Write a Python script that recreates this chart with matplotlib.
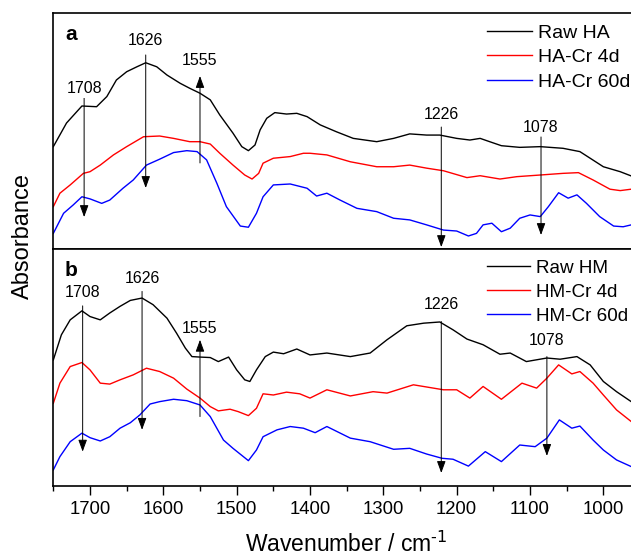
import numpy as np
import matplotlib
matplotlib.use("Agg")
import matplotlib.pyplot as plt
from matplotlib.ticker import MultipleLocator

plt.rcParams["font.family"] = ["Liberation Sans", "DejaVu Sans"]
plt.rcParams["mathtext.default"] = "regular"

# ---- panel a: humic acid (HA) ----
wn_a_raw = [1750, 1732, 1711, 1691, 1677, 1664, 1650, 1636, 1624, 1609, 1595, 1577,
            1564, 1550, 1536, 1523, 1505, 1493, 1484, 1475, 1468, 1459, 1448, 1432,
            1418, 1404, 1386, 1364, 1341, 1309, 1286, 1264, 1241, 1223, 1200, 1182,
            1168, 1155, 1139, 1114, 1086, 1055, 1032, 1018, 1000, 977, 962]
abs_a_raw = [0.433, 0.533, 0.605, 0.602, 0.645, 0.715, 0.750, 0.771, 0.788, 0.771, 0.736, 0.701,
             0.680, 0.659, 0.631, 0.567, 0.490, 0.433, 0.416, 0.440, 0.504, 0.553, 0.577, 0.571,
             0.574, 0.560, 0.525, 0.496, 0.468, 0.454, 0.468, 0.487, 0.482, 0.482, 0.468, 0.461,
             0.468, 0.454, 0.437, 0.430, 0.433, 0.426, 0.412, 0.384, 0.348, 0.327, 0.309]

wn_a_4d = [1750, 1741, 1727, 1709, 1700, 1686, 1668, 1650, 1627, 1605, 1586, 1564,
           1550, 1536, 1523, 1505, 1489, 1479, 1470, 1464, 1450, 1427, 1409, 1400,
           1377, 1345, 1309, 1286, 1264, 1241, 1218, 1186, 1168, 1141, 1118, 1086,
           1055, 1034, 1014, 991, 977, 962]
abs_a_4d = [0.179, 0.236, 0.271, 0.320, 0.327, 0.355, 0.398, 0.433, 0.475, 0.478, 0.468, 0.454,
            0.454, 0.444, 0.405, 0.355, 0.313, 0.296, 0.320, 0.363, 0.384, 0.391, 0.405, 0.405,
            0.398, 0.369, 0.348, 0.348, 0.355, 0.342, 0.331, 0.302, 0.310, 0.296, 0.306, 0.313,
            0.320, 0.323, 0.292, 0.253, 0.247, 0.253]

wn_a_60d = [1750, 1736, 1723, 1711, 1700, 1684, 1673, 1655, 1641, 1623, 1605, 1586,
            1568, 1554, 1541, 1527, 1514, 1495, 1484, 1473, 1464, 1450, 1427, 1404,
            1391, 1377, 1359, 1336, 1309, 1286, 1264, 1241, 1218, 1200, 1184, 1173,
            1164, 1152, 1139, 1127, 1114, 1100, 1086, 1075, 1061, 1048, 1036, 1023,
            1005, 986, 973, 962]
abs_a_60d = [0.066, 0.151, 0.186, 0.221, 0.212, 0.193, 0.207, 0.257, 0.292, 0.355, 0.380, 0.408,
             0.416, 0.412, 0.377, 0.278, 0.179, 0.097, 0.092, 0.151, 0.221, 0.271, 0.275, 0.257,
             0.224, 0.236, 0.207, 0.172, 0.158, 0.130, 0.123, 0.102, 0.080, 0.076, 0.055, 0.066,
             0.102, 0.109, 0.073, 0.088, 0.130, 0.144, 0.137, 0.179, 0.238, 0.215, 0.229, 0.193,
             0.137, 0.097, 0.094, 0.102]

# ---- panel b: humin (HM) ----
wn_b_raw = [1750, 1739, 1727, 1711, 1700, 1686, 1673, 1659, 1645, 1629, 1614, 1595,
            1582, 1570, 1561, 1550, 1536, 1525, 1511, 1500, 1489, 1482, 1473, 1461,
            1450, 1436, 1418, 1400, 1377, 1345, 1318, 1295, 1268, 1245, 1223, 1205,
            1186, 1164, 1141, 1127, 1105, 1077, 1059, 1036, 1018, 1000, 982, 962]
abs_b_raw = [0.532, 0.638, 0.701, 0.739, 0.715, 0.701, 0.730, 0.758, 0.783, 0.793, 0.765, 0.708,
             0.645, 0.582, 0.546, 0.544, 0.542, 0.525, 0.544, 0.490, 0.448, 0.441, 0.490, 0.546,
             0.565, 0.558, 0.578, 0.553, 0.561, 0.546, 0.561, 0.617, 0.676, 0.687, 0.692, 0.659,
             0.620, 0.596, 0.556, 0.561, 0.525, 0.540, 0.535, 0.546, 0.511, 0.441, 0.398, 0.356]

wn_b_4d = [1750, 1741, 1727, 1711, 1700, 1686, 1673, 1659, 1641, 1623, 1605, 1586,
           1568, 1550, 1536, 1525, 1509, 1498, 1484, 1473, 1464, 1450, 1432, 1414,
           1400, 1377, 1345, 1314, 1295, 1259, 1218, 1200, 1182, 1164, 1139, 1111,
           1091, 1077, 1061, 1043, 1032, 1014, 1000, 982, 962]
abs_b_4d = [0.349, 0.434, 0.504, 0.521, 0.490, 0.434, 0.430, 0.448, 0.469, 0.497, 0.483, 0.455,
            0.409, 0.371, 0.335, 0.317, 0.324, 0.314, 0.297, 0.328, 0.389, 0.384, 0.396, 0.389,
            0.371, 0.406, 0.380, 0.398, 0.392, 0.427, 0.406, 0.406, 0.371, 0.420, 0.366, 0.434,
            0.413, 0.455, 0.511, 0.473, 0.483, 0.434, 0.384, 0.321, 0.272]

wn_b_60d = [1750, 1741, 1727, 1711, 1700, 1686, 1673, 1659, 1645, 1632, 1618, 1605,
            1586, 1568, 1550, 1536, 1518, 1505, 1484, 1473, 1464, 1445, 1427, 1409,
            1393, 1377, 1345, 1318, 1286, 1264, 1241, 1220, 1205, 1184, 1161, 1139,
            1114, 1093, 1077, 1060, 1043, 1032, 1014, 1000, 982, 962]
abs_b_60d = [0.068, 0.124, 0.187, 0.223, 0.204, 0.190, 0.208, 0.244, 0.267, 0.300, 0.346, 0.356,
             0.366, 0.360, 0.342, 0.293, 0.194, 0.159, 0.107, 0.152, 0.208, 0.237, 0.251, 0.244,
             0.225, 0.251, 0.202, 0.187, 0.155, 0.159, 0.135, 0.117, 0.113, 0.084, 0.145, 0.103,
             0.173, 0.166, 0.202, 0.279, 0.244, 0.253, 0.194, 0.152, 0.110, 0.082]

labels_a = ["Raw HA", "HA-Cr 4d", "HA-Cr 60d"]
labels_b = ["Raw HM", "HM-Cr 4d", "HM-Cr 60d"]
colors = ["black", "#ff0000", "#0000ff"]

# band markers: (label, arrow x, y start, y end, label y)
bands_a = [("1708", 1708, 0.639, 0.135, 0.677),
           ("1626", 1624, 0.821, 0.258, 0.884),
           ("1555", 1550, 0.364, 0.732, 0.796),
           ("1226", 1221, 0.516, 0.008, 0.567),
           ("1078", 1085, 0.474, 0.059, 0.516)]
bands_b = [("1708", 1710, 0.760, 0.145, 0.815),
           ("1626", 1629, 0.821, 0.237, 0.875),
           ("1555", 1550, 0.293, 0.617, 0.663),
           ("1226", 1221, 0.694, 0.055, 0.765),
           ("1078", 1077, 0.546, 0.127, 0.614)]

fig = plt.figure(figsize=(6.31, 5.6), dpi=100)
ax_a = fig.add_axes([0.0845, 0.5554, 0.9298, 0.4220])
ax_b = fig.add_axes([0.0845, 0.1321, 0.9298, 0.4233])

panels = [
    (ax_a, [(wn_a_raw, abs_a_raw), (wn_a_4d, abs_a_4d), (wn_a_60d, abs_a_60d)], labels_a, bands_a, "a", 0.957, 14),
    (ax_b, [(wn_b_raw, abs_b_raw), (wn_b_4d, abs_b_4d), (wn_b_60d, abs_b_60d)], labels_b, bands_b, "b", 0.537, 13.6),
]

for ax, series, labels, bands, letter, leg_y, leg_fs in panels:
    for (wn, ab), lab, c in zip(series, labels, colors):
        ax.plot(wn, ab, color=c, linewidth=1.0, label=lab)

    for txt, xb, y0, y1, ly in bands:
        ax.annotate("", xy=(xb, y1), xytext=(xb, y0),
                    arrowprops=dict(arrowstyle="-|>,head_length=0.6,head_width=0.22",
                                    color="black", lw=0.7, mutation_scale=12,
                                    shrinkA=0, shrinkB=0))
        ax.text(xb, ly, txt, ha="center", va="center", fontsize=11.5,
                bbox=dict(facecolor="white", edgecolor="none", pad=1.0))

    ax.text(0.02, 0.886, letter, transform=ax.transAxes, fontsize=15,
            fontweight="bold", va="baseline", ha="left")

    ax.legend(loc="upper left", bbox_to_anchor=(487 / 631, leg_y),
              bbox_transform=fig.transFigure, frameon=False, fontsize=leg_fs,
              handlelength=2.3, handletextpad=0.3, labelspacing=0.36,
              borderpad=0, borderaxespad=0)

    ax.set_xlim(1750, 950)
    ax.set_ylim(0, 1)
    ax.set_yticks([])
    for s in ax.spines.values():
        s.set_linewidth(1.2)

ax_a.set_xticks([])
ax_a.tick_params(axis="x", which="both", bottom=False, labelbottom=False)

ax_b.xaxis.set_major_locator(MultipleLocator(100))
ax_b.xaxis.set_minor_locator(MultipleLocator(50))
ax_b.tick_params(axis="x", which="major", direction="out", length=6.5, width=1.0,
                 labelsize=13.3, pad=4)
ax_b.tick_params(axis="x", which="minor", direction="out", length=3.6, width=1.0)
ax_b.set_xticks([1700, 1600, 1500, 1400, 1300, 1200, 1100, 1000])
ax_b.set_xlabel(r"Wavenumber / cm$^{\text{-1}}$", fontsize=16.5, labelpad=10)

fig.text(23 / 631, 1 - 236 / 560, "Absorbance", rotation=90, ha="center",
         va="center", fontsize=17)

plt.savefig("out.png", dpi=100)
